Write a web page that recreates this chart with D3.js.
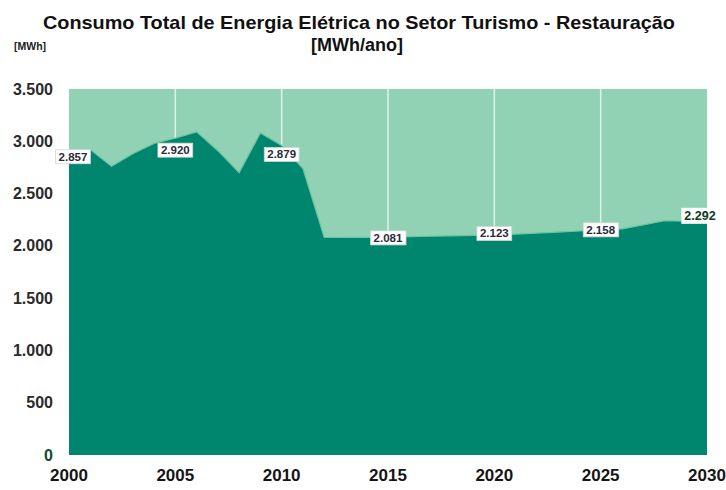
<!DOCTYPE html>
<html><head><meta charset="utf-8">
<script src="https://cdn.jsdelivr.net/npm/d3@7"></script>
<style>body{margin:0;background:#fff}svg{display:block}</style>
</head><body>
<svg id="c" width="726" height="490"></svg>
<script>
const years = [2000,2001,2002,2003,2004,2005,2006,2007,2008,2009,2010,2011,2012,2013,2014,2015,2016,2017,2018,2019,2020,2021,2022,2023,2024,2025,2026,2027,2028,2029,2030];
const consumo = [2880,2920,2760,2880,2980,3030,3090,2910,2700,3080,2960,2740,2080,2080,2082,2084,2088,2092,2096,2100,2104,2112,2122,2132,2142,2152,2162,2200,2240,2236,2232];
const labelYears = [2000,2005,2010,2015,2020,2025,2030];
const labelValues = [2857,2920,2879,2081,2123,2158,2292];
const labelTexts = ["2.857","2.920","2.879","2.081","2.123","2.158","2.292"];
const yTicks = [0,500,1000,1500,2000,2500,3000,3500];
const yTickLabels = ["0","500","1.000","1.500","2.000","2.500","3.000","3.500"];
const xTicks = [2000,2005,2010,2015,2020,2025,2030];

const svg = d3.select("#c");
const x = d3.scaleLinear().domain([2000,2030]).range([69,707]);
const y = d3.scaleLinear().domain([0,3500]).range([455,89]);
const FONT = "'Liberation Sans', Arial, sans-serif";

// title
svg.append("text").attr("x",359).attr("y",29).attr("text-anchor","middle")
  .attr("font-family",FONT).attr("font-weight","bold").attr("font-size",18.5).attr("fill","#111")
  .attr("textLength",632).attr("lengthAdjust","spacingAndGlyphs")
  .text("Consumo Total de Energia Elétrica no Setor Turismo - Restauração");
svg.append("text").attr("x",357).attr("y",51).attr("text-anchor","middle")
  .attr("font-family",FONT).attr("font-weight","bold").attr("font-size",17.5).attr("fill","#111")
  .attr("textLength",92).attr("lengthAdjust","spacingAndGlyphs")
  .text("[MWh/ano]");
svg.append("text").attr("x",14).attr("y",50)
  .attr("font-family",FONT).attr("font-weight","bold").attr("font-size",10.5).attr("fill","#222")
  .text("[MWh]");

// plot background (light area)
svg.append("rect").attr("x",x(2000)).attr("y",y(3500)).attr("width",x(2030)-x(2000)).attr("height",y(0)-y(3500))
  .attr("fill","#91d2b4");

// vertical gridlines
svg.append("g").selectAll("line").data(xTicks.slice(1,-1)).join("line")
  .attr("x1",d=>x(d)).attr("x2",d=>x(d)).attr("y1",y(3500)).attr("y2",y(0))
  .attr("stroke","#ffffff").attr("stroke-opacity",0.7).attr("stroke-width",1.5);

// dark area
const area = d3.area().x((d,i)=>x(years[i])).y0(y(0)).y1(d=>y(d));
svg.append("path").datum(consumo).attr("d",area).attr("fill","#00866f");
const line = d3.line().x((d,i)=>x(years[i])).y(d=>y(d));
svg.append("path").datum(consumo).attr("d",line).attr("fill","none").attr("stroke","#6cc3a2").attr("stroke-width",1.2);

// y axis labels
svg.append("g").selectAll("text").data(yTicks).join("text")
  .attr("x",53).attr("y",d=>y(d)+5.5).attr("text-anchor","end")
  .attr("font-family",FONT).attr("font-weight","bold").attr("font-size",16)
  .attr("fill",(d,i)=>i===0?"#0d4a2a":"#2a2a2a")
  .text((d,i)=>yTickLabels[i]);

// x axis labels
svg.append("g").selectAll("text").data(xTicks).join("text")
  .attr("x",d=>x(d)).attr("y",481).attr("text-anchor","middle")
  .attr("font-family",FONT).attr("font-weight","bold").attr("font-size",17)
  .attr("fill","#151515")
  .text(d=>d);

// data labels
const lg = svg.append("g");
labelYears.forEach((yr,i)=>{
  const cx = i===0 ? x(yr)+4 : (i===labelYears.length-1 ? x(yr)-7 : x(yr));
  const cy = y(labelValues[i]);
  const last = i===labelYears.length-1;
  const t = lg.append("text").attr("x",cx).attr("y",cy+4.5).attr("text-anchor","middle")
    .attr("font-family",FONT).attr("font-weight","bold").attr("font-size",last?12.5:11.5)
    .attr("fill",last?"#0b3d20":"#2b2b3a").text(labelTexts[i]);
  const bb = t.node().getBBox();
  lg.insert("rect","text").attr("x",bb.x-3).attr("y",bb.y-1).attr("width",bb.width+6).attr("height",bb.height+2)
    .attr("fill","#ffffff").attr("stroke",last?"none":"#cfd8d4").attr("stroke-width",0.8);
});
</script>
</body></html>
